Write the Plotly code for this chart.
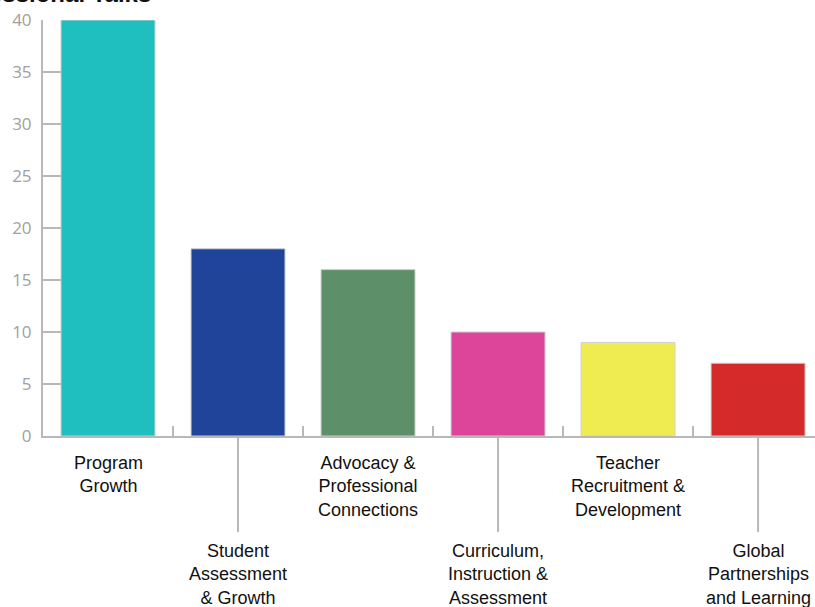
import plotly.graph_objects as go

# Number of talks by topic
categories = [
    "Program<br>Growth",
    "Student<br>Assessment<br>& Growth",
    "Advocacy &<br>Professional<br>Connections",
    "Curriculum,<br>Instruction &<br>Assessment",
    "Teacher<br>Recruitment &<br>Development",
    "Global<br>Partnerships<br>and Learning",
]
counts = [40, 18, 16, 10, 9, 7]
colors = ["#1fbfbf", "#1f449a", "#5d8f68", "#dc4599", "#eeec50", "#d42a2a"]
y_ticks = [0, 5, 10, 15, 20, 25, 30, 35, 40]

axis_grey = "#b8b8b8"
positions = list(range(len(categories)))

fig = go.Figure(
    go.Bar(
        x=positions,
        y=counts,
        marker=dict(color=colors, line=dict(color="#d0d0d0", width=1)),
        width=0.723,
        hoverinfo="skip",
    )
)

# Category labels: alternate rows, lower row joined to its bar by a leader line
annotations = []
shapes = []
for i, label in enumerate(categories):
    lower = i % 2 == 1
    annotations.append(dict(
        x=i, xref="x",
        y=-0.248 if lower else -0.036, yref="paper",
        yanchor="top", xanchor="center",
        text=label, showarrow=False, align="center",
        font=dict(family="Liberation Sans, Arial, sans-serif", size=18, color="#111111"),
    ))
    if lower:
        shapes.append(dict(
            type="line", xref="x", yref="paper",
            x0=i, x1=i, y0=0, y1=-0.231,
            line=dict(color=axis_grey, width=2),
        ))

annotations.append(dict(
    x=0.143, xref="paper", y=1.0265, yref="paper",
    xanchor="right", yanchor="bottom",
    text="<b>Professional Talks</b>", showarrow=False,
    font=dict(family="Liberation Sans, Arial, sans-serif", size=24, color="#111111"),
))

fig.update_layout(
    width=815, height=607,
    margin=dict(l=43, r=0, t=20, b=171),
    paper_bgcolor="white", plot_bgcolor="white",
    showlegend=False,
    annotations=annotations,
    shapes=shapes,
)
fig.update_xaxes(
    range=[-0.5, 5.438],
    tickvals=[p + 0.5 for p in positions[:-1]],
    showticklabels=False,
    ticks="inside", ticklen=10, tickwidth=2, tickcolor=axis_grey,
    showline=True, linecolor=axis_grey, linewidth=2,
    showgrid=False, zeroline=False,
)
fig.update_yaxes(
    range=[0, 40],
    tickvals=y_ticks,
    ticks="inside", ticklen=18, tickwidth=2, tickcolor=axis_grey,
    showline=True, linecolor=axis_grey, linewidth=2,
    showgrid=False, zeroline=False,
    tickfont=dict(family="Open Sans, sans-serif", size=17, color="#a0a0a0"),
    ticklabelstandoff=6,
)

fig.write_html("out.html")
